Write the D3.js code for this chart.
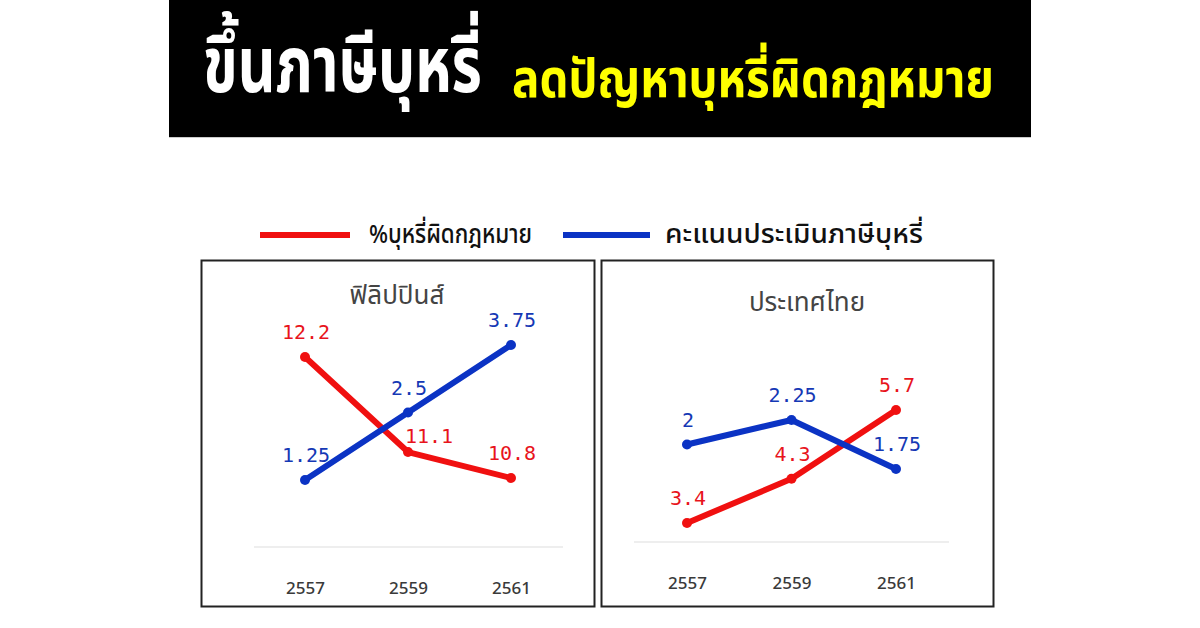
<!DOCTYPE html>
<html>
<head>
<meta charset="utf-8">
<script src="https://cdn.jsdelivr.net/npm/d3@7"></script>
<style>
  html, body { margin: 0; padding: 0; background: #fff; }
  svg { display: block; }
  .thai { font-family: "Noto Sans Thai", "Noto Sans Thai Looped", "Loma", "Garuda", "Tlwg Typo", "Noto Sans", sans-serif; }
  .num { font-family: "DejaVu Sans Mono", "Liberation Mono", monospace; }
</style>
</head>
<body>
<script>
"use strict";

// ---- data ----
const years = ["2557", "2559", "2561"];
const countries = ["ฟิลิปปินส์", "ประเทศไทย"];
const seriesNames = ["%บุหรี่ผิดกฎหมาย", "คะแนนประเมินภาษีบุหรี่"];
const illicitPH = [12.2, 11.1, 10.8];
const taxScorePH = [1.25, 2.5, 3.75];
const illicitTH = [3.4, 4.3, 5.7];
const taxScoreTH = [2, 2.25, 1.75];
const titleMain = "ขึ้นภาษีบุหรี่";
const titleSub = "ลดปัญหาบุหรี่ผิดกฎหมาย";

const RED = "#f01010";
const BLUE = "#0b33c4";
const RED_TXT = "#e8141c";
const BLUE_TXT = "#1538b5";

const W = 1200, H = 628;
const svg = d3.select("body").append("svg").attr("width", W).attr("height", H);

// squeeze a text to a given width with a transform, so its box stays true
function fitText(sel, x, y, width, sy)
{
  const len = sel.node().getComputedTextLength();
  sel.attr("transform", `translate(${x},${y}) scale(${width / len},${sy})`);
  return sel;
}

// ---- banner ----
svg.append("rect").attr("x", 169).attr("y", 0).attr("width", 862).attr("height", 137).attr("fill", "#000");
svg.append("line").attr("x1", 169).attr("x2", 1031).attr("y1", 137.5).attr("y2", 137.5).attr("stroke", "#ccc");
fitText(svg.append("text").attr("class", "thai")
  .style("font-size", "68px").style("font-weight", "bold")
  .attr("fill", "#fff").text(titleMain), 203, 92, 279, 1.15);
fitText(svg.append("text").attr("class", "thai")
  .style("font-size", "50px").style("font-weight", "bold")
  .attr("fill", "#ffff00").text(titleSub), 512, 97, 482, 1.05);

// ---- legend ----
const legend = [
  {name: seriesNames[0], color: RED, x1: 260, x2: 350, tx: 369, tw: 163},
  {name: seriesNames[1], color: BLUE, x1: 563, x2: 650, tx: 665, tw: 258}
];
legend.forEach(l => {
  svg.append("line").attr("x1", l.x1).attr("x2", l.x2).attr("y1", 235).attr("y2", 235)
    .attr("stroke", l.color).attr("stroke-width", 6);
  fitText(svg.append("text").attr("class", "thai")
    .style("font-size", "26px").style("font-weight", "500").attr("fill", "#111").text(l.name),
    l.tx, 243, l.tw, 1);
});

// ---- panels ----
const panels = [
  {title: countries[0], tx: 397, ty: 304, box: [201.5, 260.5, 393, 346], xr: [305, 511], grid: [254, 563, 547], tickY: 594,
   series: [
     {vals: illicitPH, color: RED, txt: RED_TXT, y: d3.scaleLinear().domain([10.8, 12.2]).range([478, 357])},
     {vals: taxScorePH, color: BLUE, txt: BLUE_TXT, y: d3.scaleLinear().domain([1.25, 3.75]).range([480, 345])}
   ]},
  {title: countries[1], tx: 807, ty: 311, box: [601.5, 260.5, 392, 346], xr: [687, 896], grid: [634, 949, 542], tickY: 589,
   series: [
     {vals: illicitTH, color: RED, txt: RED_TXT, y: d3.scaleLinear().domain([3.4, 5.7]).range([523, 410])},
     {vals: taxScoreTH, color: BLUE, txt: BLUE_TXT, y: d3.scaleLinear().domain([1.75, 2.25]).range([469, 420])}
   ]}
];

panels.forEach(p => {
  const g = svg.append("g");
  g.append("rect").attr("x", p.box[0]).attr("y", p.box[1]).attr("width", p.box[2]).attr("height", p.box[3])
    .attr("fill", "#fff").attr("stroke", "#222").attr("stroke-width", 2);

  const x = d3.scalePoint().domain(years).range(p.xr);

  g.append("text").attr("class", "thai")
    .attr("x", p.tx).attr("y", p.ty)
    .attr("text-anchor", "middle").style("font-size", "26px").attr("fill", "#444")
    .text(p.title);

  g.append("line").attr("x1", p.grid[0]).attr("x2", p.grid[1]).attr("y1", p.grid[2]).attr("y2", p.grid[2])
    .attr("stroke", "#ddd").attr("stroke-width", 1.2);

  const axis = d3.axisBottom(x).tickSize(0).tickPadding(0);
  g.append("g").attr("transform", `translate(0,${p.tickY - 12})`).call(axis)
    .call(a => a.select(".domain").remove())
    .selectAll("text")
    .style("font-family", "'Noto Sans', 'Open Sans', sans-serif")
    .style("font-size", "17px").style("font-weight", "500").attr("fill", "#3a3a3a");

  p.series.forEach(s => {
    const line = d3.line().x((d, i) => x(years[i])).y(d => s.y(d));
    g.append("path").datum(s.vals).attr("d", line)
      .attr("fill", "none").attr("stroke", s.color).attr("stroke-width", 6)
      .attr("stroke-linejoin", "round").attr("stroke-linecap", "round");
    g.selectAll(null).data(s.vals).enter().append("circle")
      .attr("cx", (d, i) => x(years[i])).attr("cy", d => s.y(d)).attr("r", 5)
      .attr("fill", s.color);
    g.selectAll(null).data(s.vals).enter().append("text").attr("class", "num")
      .attr("x", (d, i) => x(years[i]) + (d === 11.1 ? 21 : 1))
      .attr("y", d => s.y(d) + (d === 11.1 ? -16 : -25))
      .attr("dy", "0.36em").attr("text-anchor", "middle")
      .style("font-size", "20px").attr("fill", s.txt)
      .text(d => d);
  });
});
</script>
</body>
</html>
